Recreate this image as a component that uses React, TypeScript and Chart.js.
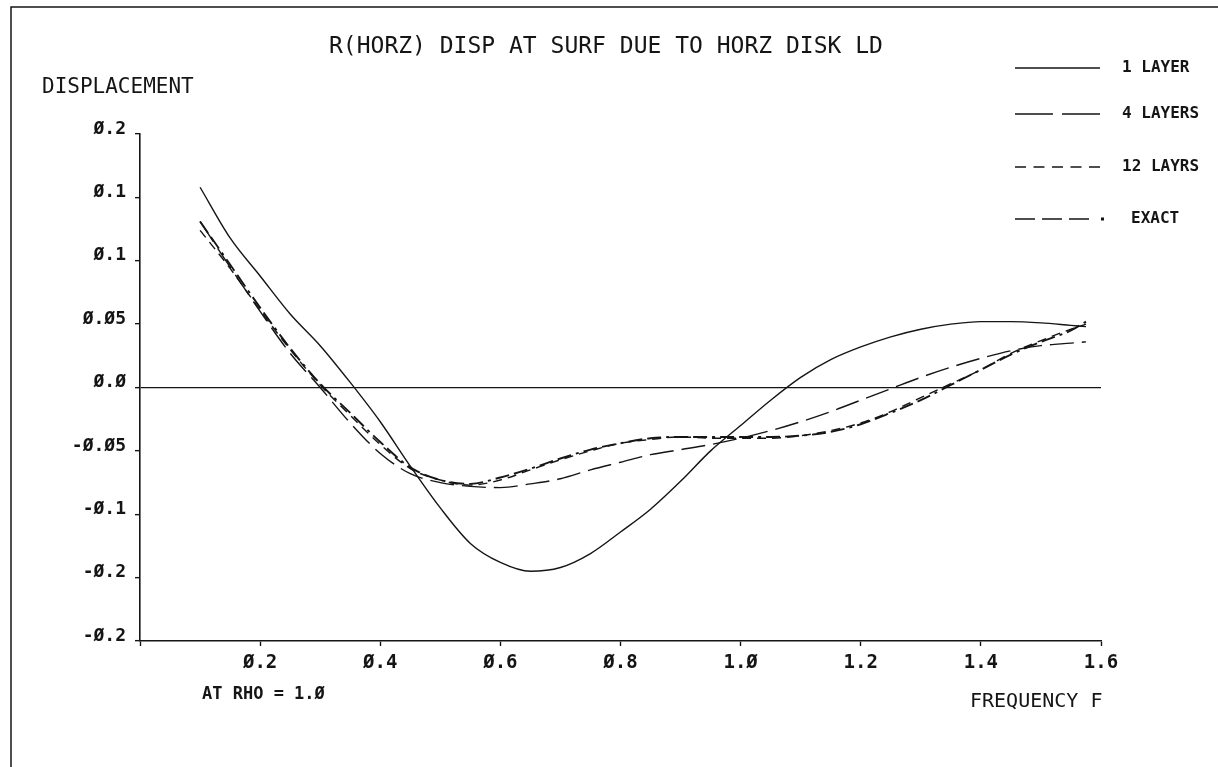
import React, { useEffect, useRef } from "react";
import { Chart, registerables } from "chart.js";

Chart.register(...registerables);

// Frequency samples (F) shared by all four response curves
const FREQ = [
  0.1, 0.15, 0.2, 0.25, 0.3, 0.35, 0.4, 0.45, 0.5, 0.55, 0.6, 0.65, 0.7, 0.75, 0.8, 0.85,
  0.9, 0.95, 1.0, 1.05, 1.1, 1.15, 1.2, 1.25, 1.3, 1.35, 1.4, 1.45, 1.5, 1.55, 1.575,
];

// Horizontal surface displacement for each model
const ONE_LAYER = [
  0.158, 0.118, 0.088, 0.058, 0.033, 0.004, -0.027, -0.062, -0.095, -0.123, -0.138, -0.145,
  -0.142, -0.131, -0.114, -0.096, -0.074, -0.05, -0.03, -0.01, 0.008, 0.022, 0.032, 0.04,
  0.046, 0.05, 0.052, 0.052, 0.051, 0.049, 0.048,
];
const FOUR_LAYERS = [
  0.131, 0.095, 0.06, 0.027, 0.0, -0.028, -0.052, -0.068, -0.075, -0.078, -0.079, -0.076,
  -0.072, -0.065, -0.059, -0.053, -0.049, -0.045, -0.04, -0.034, -0.027, -0.019, -0.01,
  -0.001, 0.008, 0.016, 0.023, 0.029, 0.033, 0.035, 0.036,
];
const TWELVE_LAYERS = [
  0.124, 0.094, 0.061, 0.03, 0.002, -0.022, -0.045, -0.064, -0.073, -0.077, -0.073, -0.065,
  -0.057, -0.05, -0.044, -0.041, -0.039, -0.04, -0.04, -0.04, -0.038, -0.034, -0.028,
  -0.019, -0.008, 0.003, 0.014, 0.027, 0.037, 0.046, 0.05,
];
const EXACT = [
  0.131, 0.097, 0.063, 0.031, 0.003, -0.02, -0.043, -0.063, -0.073, -0.076, -0.071, -0.064,
  -0.056, -0.049, -0.044, -0.04, -0.039, -0.039, -0.039, -0.039, -0.038, -0.035, -0.029,
  -0.02, -0.01, 0.002, 0.014, 0.026, 0.036, 0.045, 0.052,
];

const SERIES_NAMES = ["1 LAYER", "4 LAYERS", "12 LAYRS", "EXACT"];

// Axis tick labels as printed by the plotter (bottom to top / left to right)
const Y_TICK_LABELS = ["-Ø.2", "-Ø.2", "-Ø.1", "-Ø.Ø5", "Ø.Ø", "Ø.Ø5", "Ø.1", "Ø.1", "Ø.2"];
const X_TICK_LABELS = ["", "Ø.2", "Ø.4", "Ø.6", "Ø.8", "1.Ø", "1.2", "1.4", "1.6"];

const TITLE = "R(HORZ) DISP AT SURF DUE TO HORZ DISK LD";
const Y_TITLE = "DISPLACEMENT";
const X_TITLE = "FREQUENCY F";
const NOTE = "AT RHO = 1.Ø";

const INK = "#151515";
const MONO = '"DejaVu Sans Mono", "Liberation Mono", monospace';

const pts = (ys: number[]) => FREQ.map((f, i) => ({ x: f, y: ys[i] }));

// Frame, titles and the hand-laid legend block
const decorations = {
  id: "plotterDecorations",
  afterDraw(chart: any) {
    const ctx = chart.ctx as CanvasRenderingContext2D;
    ctx.save();
    ctx.strokeStyle = INK;
    ctx.fillStyle = INK;

    // page frame
    ctx.lineWidth = 1.5;
    ctx.beginPath();
    ctx.moveTo(11, 767);
    ctx.lineTo(11, 7);
    ctx.lineTo(1218, 7);
    ctx.stroke();

    ctx.textBaseline = "middle";
    ctx.textAlign = "left";
    ctx.font = `23px ${MONO}`;
    ctx.fillText(TITLE, 329, 47);
    ctx.font = `21px ${MONO}`;
    ctx.fillText(Y_TITLE, 42, 88);
    ctx.font = `20px ${MONO}`;
    ctx.fillText(X_TITLE, 970, 702);
    ctx.font = `bold 17px ${MONO}`;
    ctx.fillText(NOTE, 202, 695);

    // legend
    const rows = [68, 114, 167, 219];
    const x0 = 1015;
    const x1 = 1100;
    ctx.lineWidth = 1.3;
    chart.data.datasets.forEach((ds: any, i: number) => {
      const y = rows[i];
      ctx.beginPath();
      if (i === 0) {
        ctx.moveTo(x0, y);
        ctx.lineTo(x1, y);
      } else if (i === 1) {
        ctx.moveTo(x0, y);
        ctx.lineTo(x0 + 38, y);
        ctx.moveTo(x0 + 47, y);
        ctx.lineTo(x1, y);
      } else if (i === 2) {
        for (let k = 0; k < 5; k++) {
          const s = x0 + k * 18.5;
          ctx.moveTo(s, y);
          ctx.lineTo(s + 11, y);
        }
      } else {
        for (let k = 0; k < 3; k++) {
          const s = x0 + k * 27;
          ctx.moveTo(s, y);
          ctx.lineTo(s + 20, y);
        }
      }
      ctx.stroke();
      if (i === 3) {
        ctx.fillRect(x1 + 1, y - 1.5, 3, 3);
      }
      ctx.font = `bold 16px ${MONO}`;
      ctx.fillText(ds.label, i === 3 ? 1131 : 1122, y);
    });
    ctx.restore();
  },
};

export default function App() {
  const canvasRef = useRef<HTMLCanvasElement | null>(null);

  useEffect(() => {
    const canvas = canvasRef.current;
    if (!canvas) return;
    const chart = new Chart(canvas, {
      type: "line",
      data: {
        datasets: [
          {
            label: SERIES_NAMES[0],
            data: pts(ONE_LAYER),
            borderColor: INK,
            borderWidth: 1.4,
            borderDash: [],
          },
          {
            label: SERIES_NAMES[1],
            data: pts(FOUR_LAYERS),
            borderColor: INK,
            borderWidth: 1.4,
            borderDash: [24, 8],
          },
          {
            label: SERIES_NAMES[2],
            data: pts(TWELVE_LAYERS),
            borderColor: INK,
            borderWidth: 1.4,
            borderDash: [9, 6],
          },
          {
            label: SERIES_NAMES[3],
            data: pts(EXACT),
            borderColor: INK,
            borderWidth: 1.9,
            borderDash: [14, 5, 14, 5, 3, 5],
          },
        ],
      },
      options: {
        responsive: false,
        devicePixelRatio: 1,
        animation: false,
        parsing: true,
        elements: {
          point: { radius: 0 },
          line: { tension: 0.4, cubicInterpolationMode: "monotone", fill: false },
        },
        layout: { padding: { left: 0, top: 134, right: 117, bottom: 0 } },
        plugins: {
          legend: { display: false },
          tooltip: { enabled: false },
          title: { display: false },
        },
        scales: {
          x: {
            type: "linear",
            min: 0,
            max: 1.6,
            afterFit(scale: any) {
              scale.height = 126;
            },
            border: { display: true, color: INK, width: 1.6 },
            grid: {
              display: true,
              drawOnChartArea: false,
              drawTicks: true,
              tickLength: 5,
              tickColor: INK,
              tickWidth: 1.4,
            },
            ticks: {
              stepSize: 0.2,
              autoSkip: false,
              maxRotation: 0,
              padding: 6,
              color: INK,
              font: { family: MONO, size: 19, weight: "bold" },
              callback: (_v: any, i: number) => X_TICK_LABELS[i] ?? "",
            },
          },
          y: {
            type: "linear",
            min: -0.2,
            max: 0.2,
            afterFit(scale: any) {
              scale.width = 140;
            },
            border: { display: true, color: INK, width: 1.6 },
            grid: {
              display: true,
              drawOnChartArea: true,
              drawTicks: true,
              tickLength: 5,
              tickColor: INK,
              tickWidth: 1.4,
              lineWidth: 1.3,
              color: (c: any) =>
                c.tick && Math.abs(c.tick.value) < 1e-9 ? INK : "rgba(0,0,0,0)",
            },
            ticks: {
              stepSize: 0.05,
              padding: 9,
              labelOffset: -5,
              color: INK,
              font: { family: MONO, size: 18, weight: "bold" },
              callback: (_v: any, i: number) => Y_TICK_LABELS[i] ?? "",
            },
          },
        },
      },
      plugins: [decorations],
    } as any);
    return () => chart.destroy();
  }, []);

  return (
    <div
      style={{
        position: "fixed",
        left: 0,
        top: 0,
        width: 1218,
        height: 767,
        background: "#ffffff",
      }}
    >
      <canvas ref={canvasRef} width={1218} height={767} style={{ display: "block" }} />
    </div>
  );
}
